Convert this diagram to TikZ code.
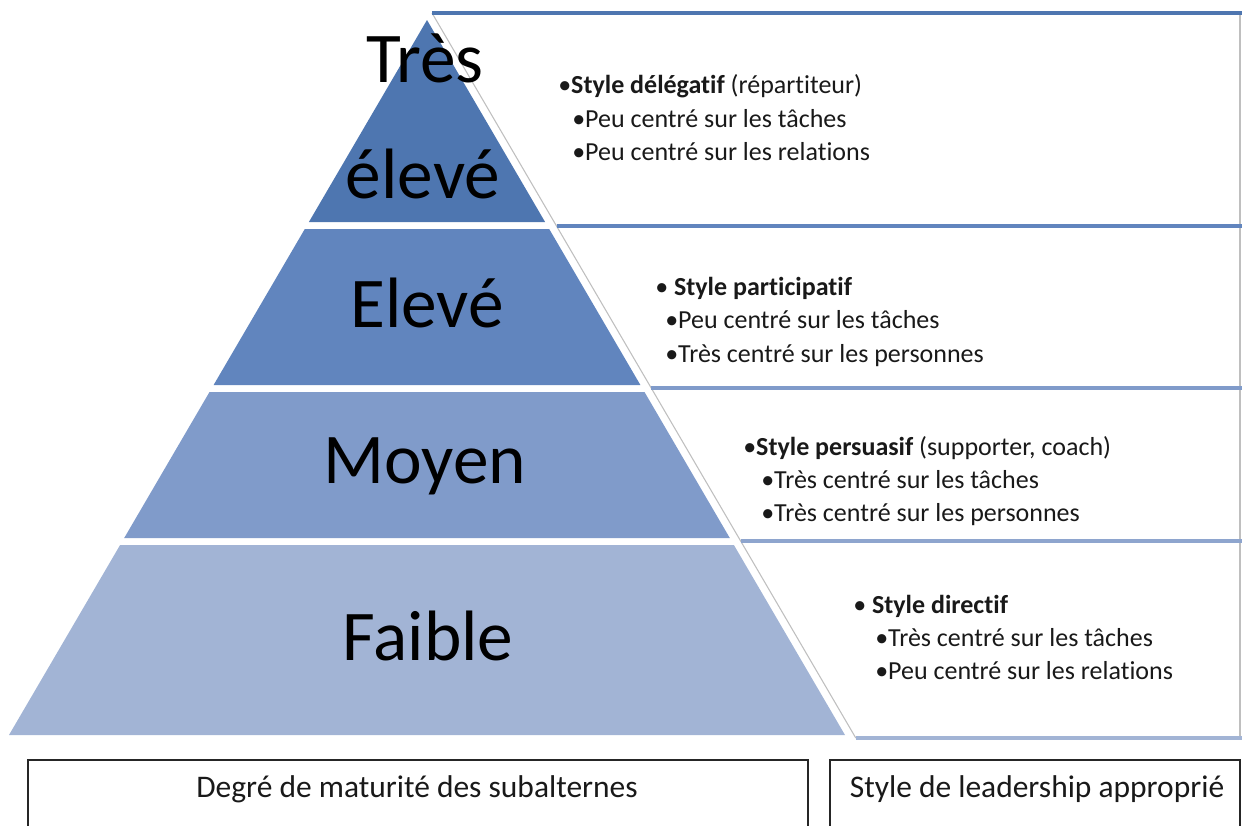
\documentclass[tikz,border=0pt]{standalone}
\usepackage{fontspec}
\setmainfont{Carlito}[Ligatures=NoCommon]
\definecolor{lvla}{rgb}{0.306,0.463,0.690}
\definecolor{lvlb}{rgb}{0.380,0.522,0.745}
\definecolor{lvlc}{rgb}{0.502,0.608,0.792}
\definecolor{lvld}{rgb}{0.635,0.706,0.835}
\definecolor{edge}{rgb}{0.75,0.75,0.75}
\definecolor{ink}{rgb}{0.1,0.1,0.1}

\begin{document}
\begin{tikzpicture}[x=0.75pt,y=0.75pt,yscale=-1,xscale=1,
	big/.style={font=\fontsize{53.5}{63}\selectfont,anchor=base,inner sep=0pt},
	item/.style={font=\fontsize{19.5}{24}\selectfont,text=ink,anchor=base west,inner sep=0pt},
	caption/.style={font=\fontsize{23.6}{28}\selectfont,text=ink,anchor=base,inner sep=0pt},
	bar/.style={line width=3.2pt},
	rim/.style={draw=edge,line width=0.8pt},
	box/.style={draw=black!85,line width=1.2pt}]
			\useasboundingbox (0,0) rectangle (1242,825);
			\clip (0,0) rectangle (1242,825);
			
			% pyramid
			\fill[lvla]    (427,20) -- (545.1,222) -- (308.9,222) -- cycle;
			\fill[lvlb]    (304.8,229) -- (549.2,229) -- (640.4,385) -- (213.6,385) -- cycle;
			\fill[lvlc]    (209.5,392) -- (644.5,392) -- (729.8,538) -- (124.2,538) -- cycle;
			\fill[lvld]    (120.1,545) -- (733.9,545) -- (845,735) -- (9,735) -- cycle;
			
			% panels
			\draw[rim]    (432,13) -- (855.8,738) ;
			\draw[rim]    (1240,13) -- (1240,738) ;
			\draw[bar,lvla]    (432,13) -- (1242,13) ;
			\draw[bar,lvlb]    (556.5,226) -- (1242,226) ;
			\draw[bar,lvlc]    (651,388) -- (1242,388) ;
			\draw[bar,lvlc!60!lvld]    (740.7,541) -- (1242,541) ;
			\draw[bar,lvld]    (855.8,738) -- (1242,738) ;
			
			% bottom boxes
			\draw[box]    (28,760) rectangle (808,840) ;
			\draw[box]    (830,760) rectangle (1240,840) ;
			
			
			\draw (425,82) node [big] (tres) {Très};
			\draw (423,198) node [big] (treseleve) {élevé};
			\draw (427,327) node [big] (eleve) {Elevé};
			\draw (425,483) node [big] (moyen) {Moyen};
			\draw (428,660) node [big] (faible) {Faible};
			
			\draw (558,93) node [item] (deleg) {•\textbf{Style délégatif} (répartiteur)};
			\draw (572,127) node [item] (delega) {•Peu centré sur les tâches};
			\draw (572,160) node [item] (delegb) {•Peu centré sur les relations};
			\draw (655,295) node [item] (partic) {• \textbf{Style participatif}};
			\draw (665,328) node [item] (partica) {•Peu centré sur les tâches};
			\draw (665,362) node [item] (particb) {•Très centré sur les personnes};
			\draw (743,455) node [item] (persua) {•\textbf{Style persuasif} (supporter, coach)};
			\draw (761,488) node [item] (persuaa) {•Très centré sur les tâches};
			\draw (761,521) node [item] (persuab) {•Très centré sur les personnes};
			\draw (853,613) node [item] (direct) {• \textbf{Style directif}};
			\draw (875,646) node [item] (directa) {•Très centré sur les tâches};
			\draw (875,679) node [item] (directb) {•Peu centré sur les relations};
			
			\draw (417,797) node [caption] (matur) {Degré de maturité des subalternes};
			\draw (1037,797) node [caption] (leader) {Style de leadership approprié};
			\end{tikzpicture}
\end{document}
